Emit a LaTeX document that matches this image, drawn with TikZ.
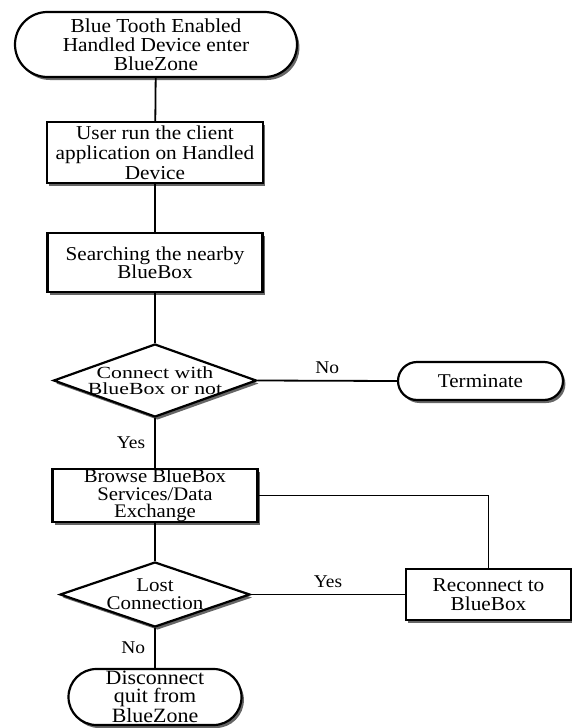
\documentclass[tikz,border=0pt]{standalone}
\usepackage{fontspec}
\setmainfont{Liberation Serif}[FakeStretch=1.08]
\usetikzlibrary{shapes.geometric,shapes.misc,shadows}

\tikzset{
  base/.style={draw=black, line width=2.2pt, fill=white, inner sep=0pt, align=center,
    drop shadow={shadow xshift=2.4pt, shadow yshift=-3pt, fill=black, opacity=0.6}},
  terminal/.style={base, rounded rectangle},
  process/.style={base, rectangle},
  decision/.style={base, diamond},
  link/.style={line width=1.8pt},
  lbl/.style={font=\fontsize{18}{18}\selectfont, inner sep=0pt},
  dtext/.style={font=\fontsize{17}{15.5}\selectfont\addfontfeature{FakeStretch=1.28},
                align=center, inner sep=0pt},
}

\begin{document}
\begin{tikzpicture}[x=1pt, y=-1pt]
  \useasboundingbox (0,0) rectangle (572,728);

  % main column
  \node[terminal, minimum width=282pt, minimum height=65pt,
        font=\fontsize{19.8}{19}\selectfont] (enter) at (156,44.5)
        {Blue Tooth Enabled\\Handled Device enter\\BlueZone};
  \node[process, minimum width=216pt, minimum height=61pt,
        font=\fontsize{19.7}{20}\selectfont] (run) at (155,152.5)
        {User run the client\\application on Handled\\Device};
  \node[process, minimum width=215pt, minimum height=59pt,
        font=\fontsize{19.6}{18.3}\selectfont] (search) at (155,262.5)
        {Searching the nearby\\BlueBox};
  \node[decision, minimum width=203pt, minimum height=73pt] (connect) at (155,380.5) {};
  \node[dtext] (connecttext) at (connect.center) {Connect with\\BlueBox or not};
  \node[process, minimum width=205pt, minimum height=53pt,
        font=\fontsize{19.2}{17.2}\selectfont] (browse) at (155,495.5)
        {Browse BlueBox\\Services/Data\\Exchange};
  \node[decision, minimum width=190pt, minimum height=65pt] (lost) at (155,594.5) {};
  \node[font=\fontsize{19.4}{18}\selectfont, align=center, inner sep=0pt]
        (losttext) at (lost.center) {Lost\\Connection};
  \node[terminal, minimum width=173pt, minimum height=56pt,
        font=\fontsize{20.3}{18}\selectfont] (quit) at (155,697)
        {Disconnect\\quit from\\BlueZone};

  % side branches
  \node[terminal, minimum width=165pt, minimum height=38pt,
        font=\fontsize{19.5}{18}\selectfont] (terminate) at (480.5,381) {Terminate};
  \node[process, minimum width=165pt, minimum height=51pt,
        font=\fontsize{19.7}{19}\selectfont] (reconnect) at (488.5,594.5)
        {Reconnect to\\BlueBox};

  % connectors
  \draw[link] (enter) -- (run);
  \draw[link] (run) -- (search);
  \draw[link] (search) -- (connect);
  \draw[link] (connect.east) -- node[lbl, midway, above=6pt] {No} (terminate.west);
  \draw[link] (connect.south) -- node[lbl, midway, left=9pt] {Yes} (browse.north);
  \draw[link] (browse) -- (lost);
  \draw[link] (lost.east) -- node[lbl, midway, above=6pt] {Yes} (reconnect.west);
  \draw[link] (reconnect.north) |- (browse.east);
  \draw[link] (lost.south) -- node[lbl, midway, left=9pt] {No} (quit.north);
\end{tikzpicture}
\end{document}
